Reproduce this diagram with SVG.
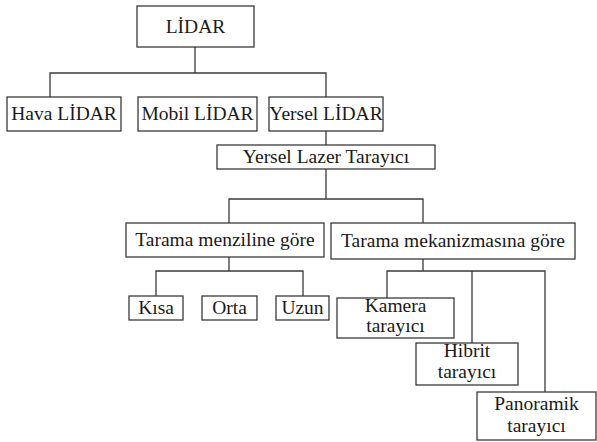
<svg xmlns="http://www.w3.org/2000/svg" width="597" height="442" viewBox="0 0 597 442">
<style>
rect{fill:#fff;stroke:#3a3a3a;stroke-width:1.3}
text{font-family:"Liberation Serif","Times New Roman",serif;font-size:19.5px;fill:#1a1a1a;text-anchor:middle}
#connectors path{fill:none;stroke:#3a3a3a;stroke-width:1.3}
</style>
<rect x="0" y="0" width="597" height="442" style="stroke:none"/>
<g id="connectors">
<path d="M195 47V73M50 97V73H326V97"/>
<path d="M326 131V145M326 169V199M229 223V199H423V223"/>
<path d="M229 257V271M156 296V271H303V296"/>
<path d="M423 259V271M387 298V271H545V392M472 271V343"/>
</g>
<g id="lidar"><rect x="137" y="6" width="117" height="41"/><text x="195.5" y="33">LİDAR</text></g>
<g id="hava"><rect x="7" y="97" width="114" height="34"/><text x="64" y="120">Hava LİDAR</text></g>
<g id="mobil"><rect x="138" y="97" width="119" height="34"/><text x="197.5" y="120">Mobil LİDAR</text></g>
<g id="yersel"><rect x="269" y="97" width="114" height="34"/><text x="326" y="120">Yersel LİDAR</text></g>
<g id="lazer"><rect x="217" y="145" width="218" height="24"/><text x="326" y="163">Yersel Lazer Tarayıcı</text></g>
<g id="menzil"><rect x="126" y="223" width="198" height="34"/><text x="225" y="246">Tarama menziline göre</text></g>
<g id="mekanizma"><rect x="331" y="223" width="244" height="36"/><text x="453" y="247">Tarama mekanizmasına göre</text></g>
<g id="kisa"><rect x="129" y="296" width="54" height="24"/><text x="156" y="314">Kısa</text></g>
<g id="orta"><rect x="202" y="296" width="55" height="24"/><text x="229.5" y="314">Orta</text></g>
<g id="uzun"><rect x="276" y="296" width="53" height="24"/><text x="302.5" y="314">Uzun</text></g>
<g id="kamera"><rect x="337" y="298" width="117" height="40"/><text x="395.5" y="312">Kamera</text><text x="395.5" y="332">tarayıcı</text></g>
<g id="hibrit"><rect x="416" y="343" width="102" height="42"/><text x="467" y="357">Hibrit</text><text x="467" y="378">tarayıcı</text></g>
<g id="panoramik"><rect x="477" y="392" width="119" height="48"/><text x="536.5" y="410">Panoramik</text><text x="536.5" y="432">tarayıcı</text></g>
</svg>
